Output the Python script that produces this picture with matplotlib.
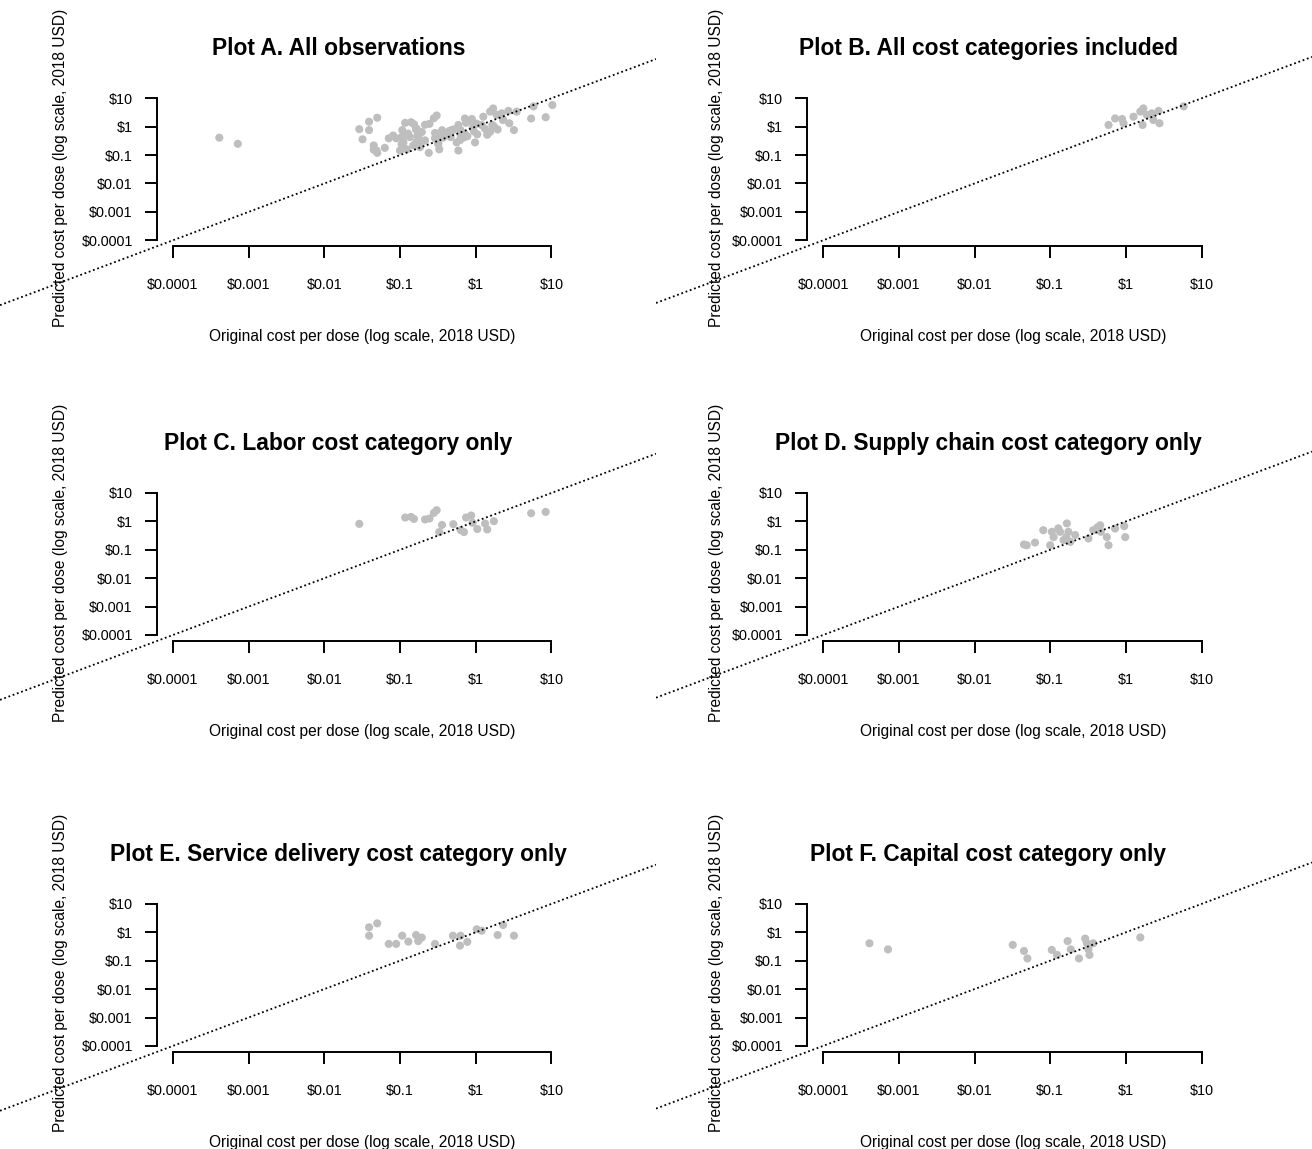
import numpy as np
import matplotlib
matplotlib.use("Agg")
import matplotlib.pyplot as plt

plt.rcParams['font.family'] = ['Liberation Sans', 'DejaVu Sans']

# ---------------- data (original cost, predicted cost; 2018 USD) ----------------
titles = ["Plot A. All observations",
          "Plot B. All cost categories included",
          "Plot C. Labor cost category only",
          "Plot D. Supply chain cost category only",
          "Plot E. Service delivery cost category only",
          "Plot F. Capital cost category only"]

b_orig = [0.59, 0.72, 0.89, 0.93, 1.26, 1.55, 1.70, 1.66, 1.89, 2.2, 2.3, 2.7, 2.78, 5.8]
b_pred = [1.15, 1.95, 1.87, 1.32, 2.25, 3.4, 4.4, 1.15, 2.6, 2.96, 1.72, 3.6, 1.32, 5.2]

c_orig = [0.029, 0.117, 0.14, 0.153, 0.214, 0.245, 0.28, 0.305, 0.359, 0.33, 0.506,
          0.634, 0.70, 0.745, 0.87, 0.91, 1.05, 1.33, 1.42, 1.74, 5.4, 8.4]
c_pred = [0.82, 1.37, 1.44, 1.22, 1.17, 1.26, 1.99, 2.48, 0.75, 0.42, 0.80,
          0.49, 0.42, 1.37, 1.61, 0.89, 0.54, 0.84, 0.52, 1.02, 1.94, 2.16]

d_orig = [0.045, 0.049, 0.063, 0.081, 0.105, 0.111, 0.10, 0.135, 0.166, 0.174, 0.15,
          0.184, 0.214, 0.32, 0.37, 0.457, 0.467, 0.56, 0.59, 0.72, 0.95, 0.98,
          0.128, 0.163, 0.42]
d_pred = [0.154, 0.145, 0.18, 0.49, 0.43, 0.28, 0.145, 0.43, 0.85, 0.43, 0.22,
          0.19, 0.33, 0.25, 0.49, 0.73, 0.43, 0.28, 0.145, 0.56, 0.68, 0.28,
          0.57, 0.28, 0.62]

e_orig = [0.039, 0.050, 0.039, 0.071, 0.089, 0.107, 0.129, 0.163, 0.174, 0.194,
          0.29, 0.50, 0.63, 0.62, 0.775, 1.03, 1.2, 1.95, 2.3, 3.2]
e_pred = [1.50, 2.07, 0.76, 0.39, 0.39, 0.76, 0.47, 0.80, 0.49, 0.65,
          0.39, 0.76, 0.76, 0.34, 0.46, 1.28, 1.14, 0.80, 1.81, 0.76]

f_orig = [0.00041, 0.00072, 0.032, 0.045, 0.050, 0.105, 0.123, 0.17, 0.187, 0.24,
          0.29, 0.305, 0.32, 0.33, 0.37, 1.55]
f_pred = [0.41, 0.25, 0.36, 0.22, 0.12, 0.24, 0.16, 0.49, 0.25, 0.12,
          0.60, 0.41, 0.25, 0.16, 0.41, 0.66]

# observations visible only in Plot A (not in any single-category plot)
a_extra_orig = [10.3, 3.47]
a_extra_pred = [5.8, 3.38]

# Plot A shows all observations together
a_orig = b_orig + c_orig + d_orig + e_orig + f_orig + a_extra_orig
a_pred = b_pred + c_pred + d_pred + e_pred + f_pred + a_extra_pred

panels = [(a_orig, a_pred), (b_orig, b_pred), (c_orig, c_pred),
          (d_orig, d_pred), (e_orig, e_pred), (f_orig, f_pred)]

tick_vals = [1e-4, 1e-3, 1e-2, 1e-1, 1, 10]
tick_labels = ["$0.0001", "$0.001", "$0.01", "$0.1", "$1", "$10"]
xlabel = "Original cost per dose (log scale, 2018 USD)"
ylabel = "Predicted cost per dose (log scale, 2018 USD)"

# ---------------- layout (pixels) ----------------
W, H = 1312, 1149
DX, DY = 75.7, 28.4            # px per decade
col_x1 = [475.7, 1125.9]       # pixel of x = $1
row_y1 = [126.7, 521.4, 932.3] # pixel of y = $1
col_bounds = [(0, 656), (656, 1312)]
row_bounds = [(0, 383), (383, 790), (790, 1149)]
title_dx = -137.5
title_dy = -78.0

fig = plt.figure(figsize=(W / 100, H / 100), dpi=100)

def fx(px):
    return px / W

def fy(py):
    return 1 - py / H

for i, (xs, ys) in enumerate(panels):
    r, c = divmod(i, 2)
    L, R = col_bounds[c]
    T, B = row_bounds[r]
    x1, y1 = col_x1[c], row_y1[r]
    ax = fig.add_axes([fx(L), fy(B), (R - L) / W, (B - T) / H])
    ax.set_xscale('log')
    ax.set_yscale('log')
    ax.set_xlim(10 ** ((L - x1) / DX), 10 ** ((R - x1) / DX))
    ax.set_ylim(10 ** ((y1 - B) / DY), 10 ** ((y1 - T) / DY))
    ax.patch.set_visible(False)

    ax.scatter(xs, ys, s=34, color='#BEBEBE', edgecolors='none', zorder=2)
    ax.axline((1, 1), (10, 10), color='black', linestyle=(0, (1, 1.5)), lw=1.3, zorder=3)

    for s in ['top', 'right']:
        ax.spines[s].set_visible(False)
    ax.spines['left'].set_position(('data', 10 ** (-4.21)))
    ax.spines['bottom'].set_position(('data', 10 ** (-4.2)))
    ax.spines['left'].set_bounds(1e-4, 10)
    ax.spines['bottom'].set_bounds(1e-4, 10)
    for s in ['left', 'bottom']:
        ax.spines[s].set_linewidth(1.4)
    ax.set_xticks(tick_vals)
    ax.set_xticklabels(tick_labels)
    ax.set_yticks(tick_vals)
    ax.set_yticklabels(tick_labels)
    ax.minorticks_off()
    ax.tick_params(axis='both', direction='out', length=8.4, width=1.4, labelsize=10.4)
    ax.tick_params(axis='x', pad=15)
    ax.tick_params(axis='y', pad=9)

    # titles and axis labels
    fig.text(fx(x1 + title_dx), fy(y1 + title_dy), titles[i], ha='center', va='center',
             fontsize=16.4, fontweight='bold')
    fig.text(fx(x1 - 113.2), fy(y1 + 210.3), xlabel, ha='center', va='center', fontsize=11.2)
    fig.text(fx(L + 61), fy(y1 + 41), ylabel, ha='center', va='center', fontsize=11.2,
             rotation=90)

fig.savefig("out.png", dpi=100)
